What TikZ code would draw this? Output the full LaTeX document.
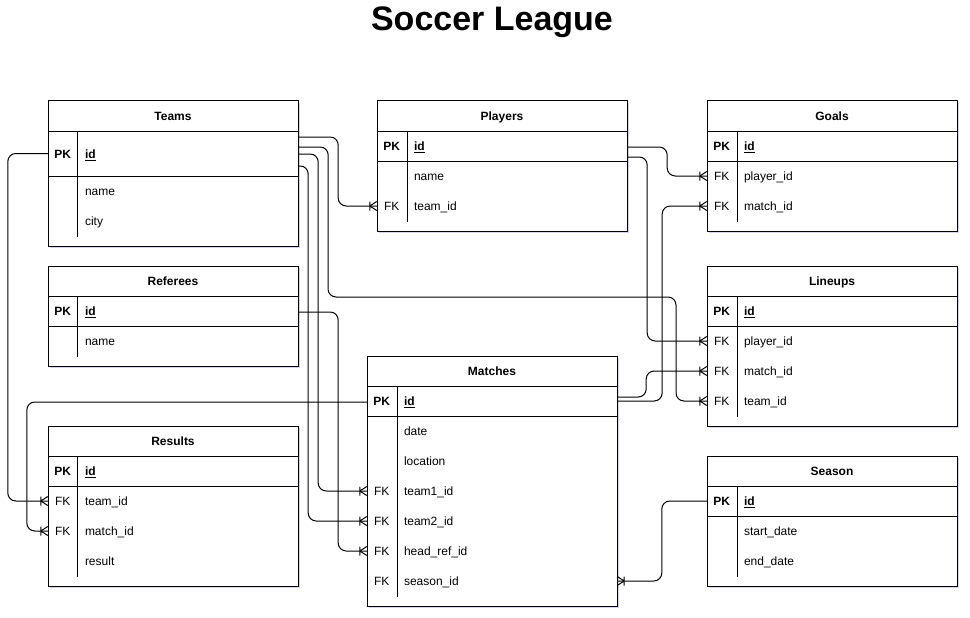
\documentclass[tikz,border=0pt]{standalone}
\usepackage{fontspec}
\setmainfont{Liberation Sans}
\usetikzlibrary{shadows}

% crow's foot (one or many)
\pgfarrowsdeclare{crowfoot}{crowfoot}
{\pgfarrowsleftextend{-7pt}\pgfarrowsrightextend{0pt}}
{
  \pgfsetdash{}{0pt}
  \pgfpathmoveto{\pgfpoint{-7pt}{0pt}}
  \pgfpathlineto{\pgfpoint{0pt}{4.5pt}}
  \pgfpathmoveto{\pgfpoint{-7pt}{0pt}}
  \pgfpathlineto{\pgfpoint{0pt}{-4.5pt}}
  \pgfpathmoveto{\pgfpoint{-7pt}{4.5pt}}
  \pgfpathlineto{\pgfpoint{-7pt}{-4.5pt}}
  \pgfusepathqstroke
}

\begin{document}
\begin{tikzpicture}[x=1pt, y=-1pt,
    title/.style={font=\bfseries\fontsize{34}{40}\selectfont},
    tbl/.style={draw, fill=white, line width=1pt,
      drop shadow={shadow xshift=2pt, shadow yshift=-2pt, opacity=0.25, fill=blue!30!gray}},
    sep/.style={line width=1pt},
    head/.style={font=\bfseries\fontsize{12}{14}\selectfont, text height=10pt, text depth=1.5pt},
    row/.style={text width=176pt, inner xsep=37pt, inner ysep=0pt, minimum height=30pt,
      align=left, text height=11pt, text depth=1.5pt, font=\fontsize{12}{14}\selectfont},
    key/.style={inner sep=0pt, text height=11pt, text depth=1.5pt, font=\fontsize{12}{14}\selectfont},
    pk/.style={key, font=\bfseries\fontsize{12}{14}\selectfont},
    rel/.style={line width=1pt, rounded corners=8pt},
    many/.style={-crowfoot}]
\useasboundingbox (0,0) rectangle (970,618);

% Title
\node[title] (title) at (492,22) {Soccer League};

% Teams
\draw[tbl] (48,101) rectangle (298,246);
\draw[sep] (48,131) -- (298,131) (48,176) -- (298,176) (77,131) -- (77,237);
\node[head] (teams) at (173,116) {Teams};
\node[row] (teams-id) at (173,153.5) {\textbf{\underline{id}}};
\node[pk] (teams-id-k) at ([xshift=15]teams-id.west) {PK};
\foreach \n/\f/\y in {name/name/191, city/city/221}
  \node[row] (teams-\n) at (173,\y) {\f};

% Players
\draw[tbl] (377,101) rectangle (627,231);
\draw[sep] (377,131) -- (627,131) (377,161) -- (627,161) (407,131) -- (407,222);
\node[head] (players) at (502,116) {Players};
\node[row] (players-id) at (502,146) {\textbf{\underline{id}}};
\node[pk] (players-id-k) at ([xshift=15]players-id.west) {PK};
\foreach \n/\k/\f/\y in {name//name/176, team/FK/team\_id/206} {
  \node[row] (players-\n) at (502,\y) {\f};
  \node[key] (players-\n-k) at ([xshift=15]players-\n.west) {\k};
}

% Goals
\draw[tbl] (707,101) rectangle (957,231);
\draw[sep] (707,131) -- (957,131) (707,161) -- (957,161) (737,131) -- (737,222);
\node[head] (goals) at (832,116) {Goals};
\node[row] (goals-id) at (832,146) {\textbf{\underline{id}}};
\node[pk] (goals-id-k) at ([xshift=15]goals-id.west) {PK};
\foreach \n/\k/\f/\y in {player/FK/player\_id/176, match/FK/match\_id/206} {
  \node[row] (goals-\n) at (832,\y) {\f};
  \node[key] (goals-\n-k) at ([xshift=15]goals-\n.west) {\k};
}

% Referees
\draw[tbl] (48,266) rectangle (298,366);
\draw[sep] (48,296) -- (298,296) (48,326) -- (298,326) (77,296) -- (77,357);
\node[head] (referees) at (173,281) {Referees};
\node[row] (referees-id) at (173,311) {\textbf{\underline{id}}};
\node[pk] (referees-id-k) at ([xshift=15]referees-id.west) {PK};
\node[row] (referees-name) at (173,341) {name};

% Lineups
\draw[tbl] (707,266) rectangle (957,426);
\draw[sep] (707,296) -- (957,296) (707,326) -- (957,326) (737,296) -- (737,417);
\node[head] (lineups) at (832,281) {Lineups};
\node[row] (lineups-id) at (832,311) {\textbf{\underline{id}}};
\node[pk] (lineups-id-k) at ([xshift=15]lineups-id.west) {PK};
\foreach \n/\k/\f/\y in {player/FK/player\_id/341, match/FK/match\_id/371, team/FK/team\_id/401} {
  \node[row] (lineups-\n) at (832,\y) {\f};
  \node[key] (lineups-\n-k) at ([xshift=15]lineups-\n.west) {\k};
}

% Matches
\draw[tbl] (367,356) rectangle (617,606);
\draw[sep] (367,386) -- (617,386) (367,416) -- (617,416) (397,386) -- (397,597);
\node[head] (matches) at (492,371) {Matches};
\node[row] (matches-id) at (492,401) {\textbf{\underline{id}}};
\node[pk] (matches-id-k) at ([xshift=15]matches-id.west) {PK};
\foreach \n/\k/\f/\y in {date//date/431, location//location/461, team1/FK/team1\_id/491,
    team2/FK/team2\_id/521, headref/FK/head\_ref\_id/551, season/FK/season\_id/581} {
  \node[row] (matches-\n) at (492,\y) {\f};
  \node[key] (matches-\n-k) at ([xshift=15]matches-\n.west) {\k};
}

% Results
\draw[tbl] (48,426) rectangle (298,586);
\draw[sep] (48,456) -- (298,456) (48,486) -- (298,486) (77,456) -- (77,577);
\node[head] (results) at (173,441) {Results};
\node[row] (results-id) at (173,471) {\textbf{\underline{id}}};
\node[pk] (results-id-k) at ([xshift=15]results-id.west) {PK};
\foreach \n/\k/\f/\y in {team/FK/team\_id/501, match/FK/match\_id/531, result//result/561} {
  \node[row] (results-\n) at (173,\y) {\f};
  \node[key] (results-\n-k) at ([xshift=15]results-\n.west) {\k};
}

% Season
\draw[tbl] (707,456) rectangle (957,586);
\draw[sep] (707,486) -- (957,486) (707,516) -- (957,516) (737,486) -- (737,577);
\node[head] (season) at (832,471) {Season};
\node[row] (season-id) at (832,501) {\textbf{\underline{id}}};
\node[pk] (season-id-k) at ([xshift=15]season-id.west) {PK};
\foreach \n/\f/\y in {start/start\_date/531, end/end\_date/561}
  \node[row] (season-\n) at (832,\y) {\f};

% Relations
\draw[rel, many] ([yshift=16.5]teams-id.east) -- ++(40,0) |- (players-team.west);
\draw[rel, many] ([yshift=6.5]teams-id.east) -- ++(30,0) -- (328,297) -- (676,297) |- (lineups-team.west);
\draw[rel, many] ([yshift=-0.5]teams-id.east) -- ++(20,0) |- (matches-team1.west);
\draw[rel, many] ([yshift=-12.5]teams-id.east) -- ++(10,0) |- (matches-team2.west);
\draw[rel, many] (teams-id.west) -- ++(-40,0) |- (results-team.west);
\draw[rel, many] ([yshift=-1]referees-id.east) -- ++(40,0) |- (matches-headref.west);
\draw[rel, many] ([yshift=-1]matches-id.west) -| ([xshift=-21]results-match.west) -- (results-match.west);
\draw[rel, many] ([yshift=4]matches-id.east) -- ++(29,0) |- (lineups-match.west);
\draw[rel, many] (matches-id.east) -- ++(45,0) |- (goals-match.west);
\draw[rel, many] ([yshift=-1]players-id.east) -- ++(40,0) |- (goals-player.west);
\draw[rel, many] ([yshift=-11]players-id.east) -- ++(20,0) |- (lineups-player.west);
\draw[rel, many] (season-id.west) -- ++(-45,0) |- (matches-season.east);
\end{tikzpicture}
\end{document}
